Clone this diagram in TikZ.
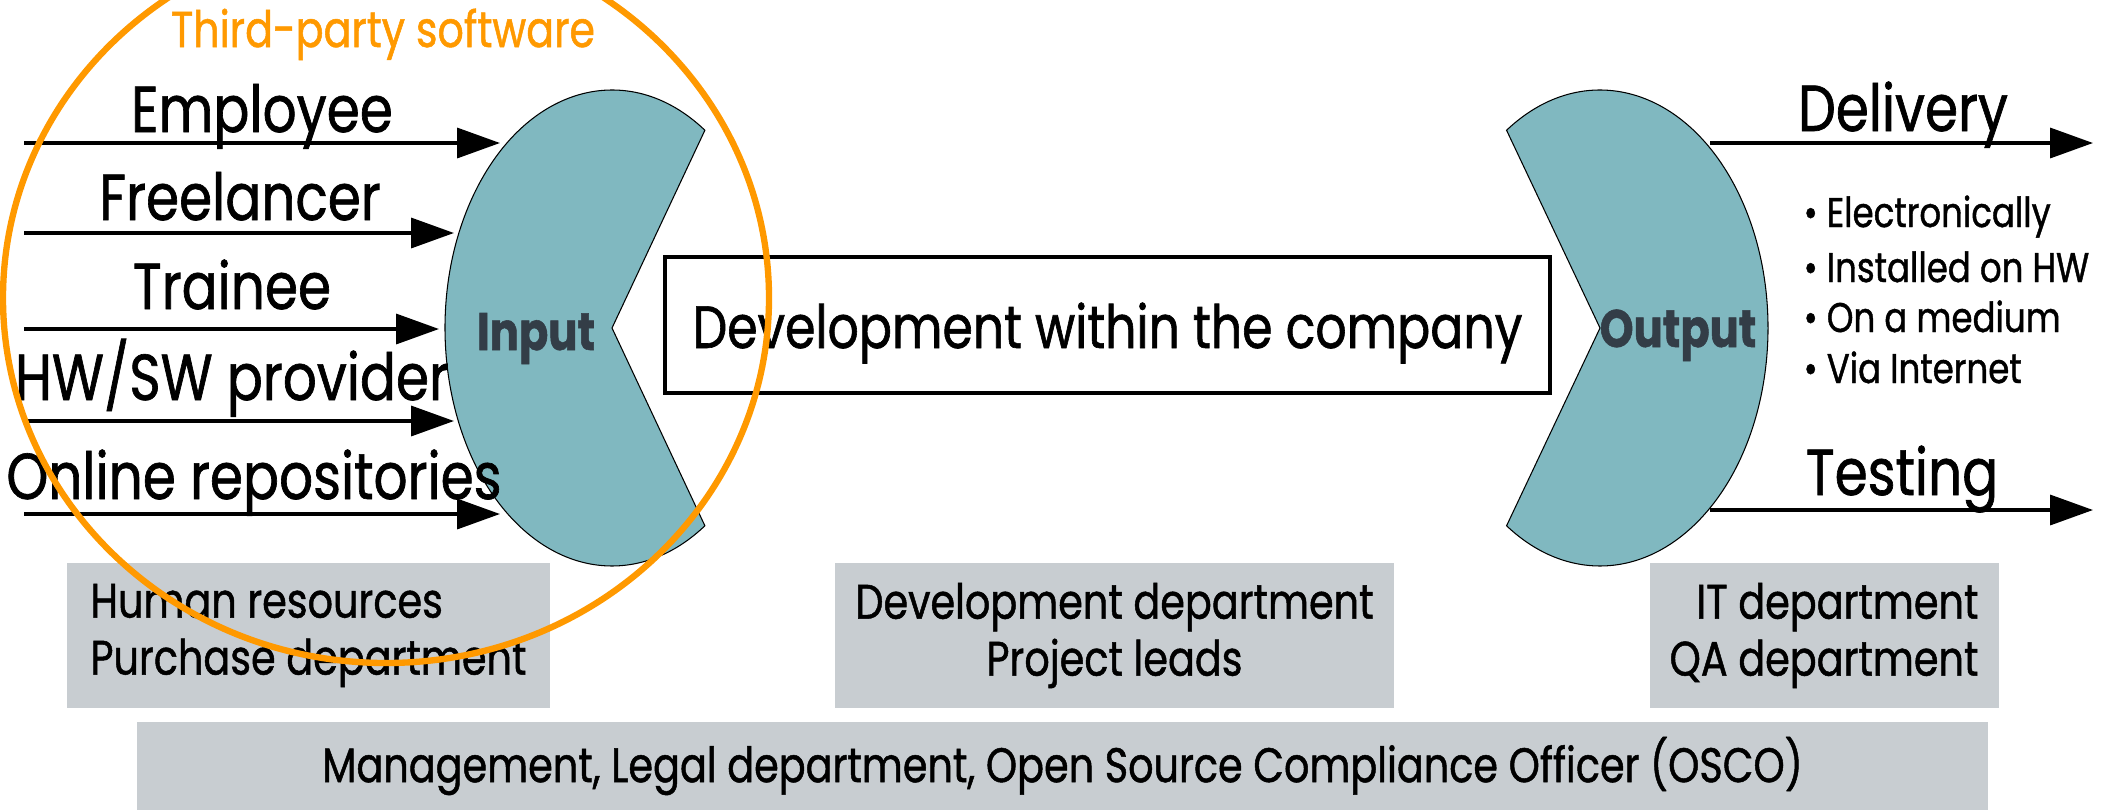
\documentclass[tikz,border=0pt]{standalone}
\usepackage{fontspec}
\setmainfont{Poppins}[FakeStretch=0.82, FakeBold=1]
\usetikzlibrary{arrows.meta, positioning, calc}
\definecolor{pacteal}{RGB}{128,184,192}
\definecolor{ringorange}{RGB}{255,153,0}
\definecolor{boxgray}{RGB}{200,205,209}
\definecolor{slate}{RGB}{51,61,71}

\tikzset{
  flow/.style={line width=1pt, -{Triangle[length=4.3mm, width=3mm]}},
  biglabel/.style={font=\fontsize{18.5}{22}\selectfont, anchor=base, inner sep=0},
  bullet/.style={font=\fontsize{11.8}{14}\selectfont, anchor=base west, inner sep=0},
  pac/.style={fill=pacteal, draw=black, line width=0.3pt},
  inout/.style={font=\bfseries\fontsize{15}{18}\selectfont, text=slate, anchor=base, inner sep=0},
  devbox/.style={draw, line width=1pt, minimum width=8.85cm, minimum height=1.36cm, text height=0.55cm, text depth=0.09cm, font=\fontsize{17}{20}\selectfont, inner sep=0},
  graybox/.style={fill=boxgray, minimum height=1.45cm, inner xsep=0.2cm, font=\fontsize{13.8}{16.2}\selectfont},
  ring/.style={draw=ringorange, line width=1.8pt},
}

\begin{document}
\begin{tikzpicture}
  \useasboundingbox (0,0) rectangle (21.05,8.10);
  % departments
  \node[graybox, minimum width=4.83cm, align=left] (hr) at (3.085,1.745) {Human resources\\Purchase department};
  \node[graybox, minimum width=5.57cm, align=center] (devdep) at (11.145,1.745) {Development department\\Project leads};
  \node[graybox, minimum width=3.46cm, align=right] (qa) at (18.24,1.745) {IT department\\QA department};
  \node[graybox, minimum width=18.51cm, minimum height=0.88cm] (mgmt) at (10.625,0.44) {Management, Legal department, Open Source Compliance Officer (OSCO)};
  % input and output shapes
  \coordinate (inc) at (6.12,4.82);
  \filldraw[pac] (inc) -- ++(56.2:1.67 and 2.38) arc[start angle=56.2, end angle=303.8, x radius=1.67, y radius=2.38] -- cycle;
  \coordinate (outc) at (16.00,4.82);
  \filldraw[pac] (outc) -- ++(123.8:1.68 and 2.38) arc[start angle=123.8, end angle=-123.8, x radius=1.68, y radius=2.38] -- cycle;
  \node[inout] (in) at (5.36,4.60) {Input};
  \node[inout] (out) at (16.78,4.63) {Output};
  \node[devbox] (dev) at (11.075,4.85) {Development within the company};
  % sources
  \foreach \i/\y/\tip in {1/6.67/5.00, 2/5.77/4.54, 3/4.81/4.39, 4/3.89/4.54, 5/2.96/5.00} {
    \coordinate (src\i) at (0.24,\y);
    \coordinate (dst\i) at (\tip,\y);
    \draw[flow] (src\i) -- (dst\i);
  }
  \node[biglabel] (emp) at (2.62,6.78) {Employee};
  \node[biglabel] (free) at (2.40,5.90) {Freelancer};
  \node[biglabel] (train) at (2.32,5.01) {Trainee};
  \node[biglabel] (hwsw) at (2.32,4.10) {HW/SW provider};
  \node[biglabel] (repo) at (2.54,3.11) {Online repositories};
  % results
  \coordinate (dsrc) at (17.10,6.67);
  \coordinate (ddst) at (20.93,6.67);
  \draw[flow] (dsrc) -- (ddst);
  \coordinate (tsrc) at (17.10,3.00);
  \coordinate (tdst) at (20.93,3.00);
  \draw[flow] (tsrc) -- (tdst);
  \node[biglabel] (deliv) at (19.03,6.79) {Delivery};
  \node[biglabel] (test) at (19.02,3.15) {Testing};
  \foreach \j/\y/\txt in {1/5.83/Electronically, 2/5.28/Installed on HW, 3/4.78/On a medium, 4/4.27/Via Internet}
    \node[bullet] (way\j) at (18.03,\y) {\textbullet\ \txt};
  % third-party ring
  \draw[ring] (3.86,5.12) ellipse[x radius=3.83, y radius=3.65];
  \node[font=\fontsize{14.3}{17}\selectfont, text=ringorange, anchor=base, inner sep=0] (tp) at (3.83,7.63) {Third-party software};
\end{tikzpicture}
\end{document}
